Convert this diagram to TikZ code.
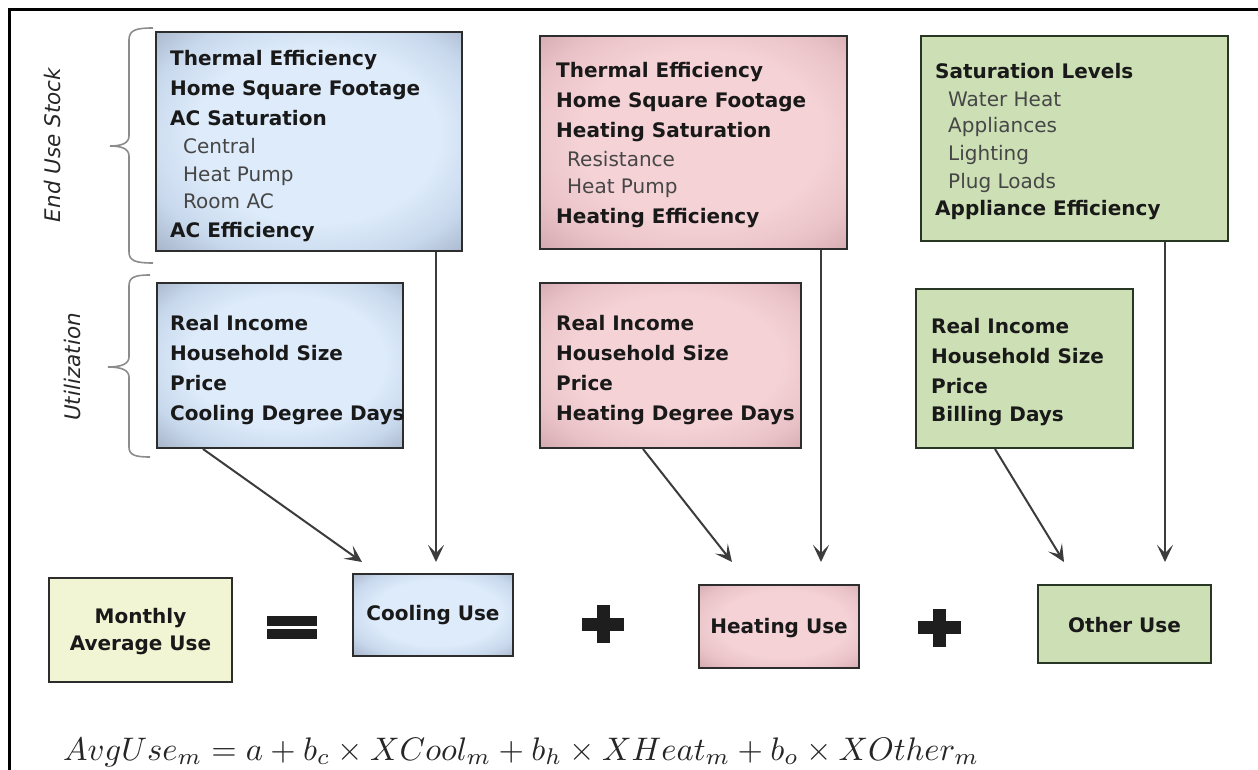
\documentclass[tikz,border=0pt]{standalone}
\usepackage{fontspec}
\setmainfont{DejaVu Sans}
\usepackage{graphicx}
\usetikzlibrary{arrows.meta}
\definecolor{bllight}{RGB}{221,235,250}
\definecolor{blmid}{RGB}{200,216,236}
\definecolor{bldark}{RGB}{150,164,184}
\definecolor{pklight}{RGB}{244,210,214}
\definecolor{pkmid}{RGB}{233,194,199}
\definecolor{pkdark}{RGB}{200,158,163}
\definecolor{grfill}{RGB}{205,224,181}
\definecolor{ylfill}{RGB}{242,245,212}
\definecolor{boxline}{RGB}{45,45,45}
\definecolor{grline}{RGB}{40,55,35}
\definecolor{arrowgray}{RGB}{60,60,60}
\definecolor{bracegray}{RGB}{140,140,140}
\definecolor{subgray}{RGB}{70,70,70}
\definecolor{signcol}{RGB}{30,30,30}
\pgfdeclareradialshading{blueshade}{\pgfpoint{2bp}{2bp}}{color(0bp)=(bllight); color(20bp)=(bllight); color(29bp)=(blmid); color(40bp)=(bldark); color(60bp)=(bldark)}
\pgfdeclareradialshading{pinkshade}{\pgfpoint{2bp}{2bp}}{color(0bp)=(pklight); color(20bp)=(pklight); color(29bp)=(pkmid); color(40bp)=(pkdark); color(60bp)=(pkdark)}
\newcommand\subitm[1]{{\mdseries\color{subgray}#1}}
\tikzset{
  boxbase/.style={draw=boxline, line width=2pt, rectangle, inner sep=0pt},
  bluebox/.style={boxbase, shade, shading=blueshade},
  pinkbox/.style={boxbase, shade, shading=pinkshade},
  greenbox/.style={boxbase, draw=grline, fill=grfill},
  yellowbox/.style={boxbase, fill=ylfill},
  itemlist/.style={align=left, anchor=base west, inner sep=0pt, font=\fontsize{20}{30}\selectfont\bfseries, text=black!90},
  uselabel/.style={font=\fontsize{20}{27}\selectfont\bfseries, align=center, inner sep=0pt, text=black!90},
  arr/.style={draw=arrowgray, line width=2pt, -{Stealth[length=17pt,width=16pt,inset=8pt]}},
  bracket/.style={draw=bracegray, line width=1.6pt},
  sidelabel/.style={font=\fontsize{21.5}{24}\selectfont\itshape, rotate=90, text=black!85, inner sep=0pt},
  signfill/.style={fill=signcol},
}
\begin{document}
\begin{tikzpicture}[x=1pt,y=-1pt]
\useasboundingbox (0,0) rectangle (1258,770);
% frame
\draw[line width=3pt] (1258,10) -- (9,10) -- (9,770);

% braces and side labels
\draw[bracket] (153,28) .. controls (136,28) and (129,30) .. (129,40) -- (129,136) .. controls (129,143) and (122,146) .. (110,146) .. controls (122,146) and (129,149) .. (129,156) -- (129,252) .. controls (129,261) and (136,263) .. (153,263);
\draw[bracket] (150,275) .. controls (135,275) and (129,277) .. (129,286) -- (129,357) .. controls (129,364) and (121,367) .. (108,367) .. controls (121,367) and (129,370) .. (129,377) -- (129,447) .. controls (129,455) and (135,457) .. (150,457);
\node[sidelabel] (lstock) at (52,145) {End Use Stock};
\node[sidelabel] (lutil) at (72,367) {Utilization};

% top row boxes
\node[bluebox, minimum width=306pt, minimum height=219pt] (btop) at (309,141.5) {};
\node[pinkbox, minimum width=307pt, minimum height=213pt] (ptop) at (693.5,142.5) {};
\node[greenbox, minimum width=307pt, minimum height=205pt] (gtop) at (1074.5,138.5) {};
% middle row boxes
\node[bluebox, minimum width=246pt, minimum height=165pt] (bbot) at (280,365.5) {};
\node[pinkbox, minimum width=261pt, minimum height=165pt] (pbot) at (670.5,365.5) {};
\node[greenbox, minimum width=217pt, minimum height=159pt] (gbot) at (1024.5,368.5) {};

% texts (anchored at the baseline of the last line)
\node[itemlist] (btoptxt) at (170,237) {Thermal Efficiency\\ Home Square Footage\\ AC Saturation\\[-2pt] \subitm{\kern13pt Central}\\[-2pt] \subitm{\kern13pt Heat Pump}\\[-3pt] \subitm{\kern13pt Room AC}\\[-1pt] AC Efficiency};
\node[itemlist] (ptoptxt) at (556,224) {Thermal Efficiency\\ Home Square Footage\\ Heating Saturation\\[-2pt] \subitm{\kern11pt Resistance}\\[-2pt] \subitm{\kern11pt Heat Pump}\\ Heating Efficiency};
\node[itemlist] (gtoptxt) at (935,216) {Saturation Levels\\[-2pt] \subitm{\kern13pt Water Heat}\\[-3pt] \subitm{\kern13pt Appliances}\\[-2pt] \subitm{\kern13pt Lighting}\\[-3pt] \subitm{\kern13pt Plug Loads}\\[-2pt] Appliance Efficiency};
\node[itemlist] (bbottxt) at (170,420) {Real Income\\ Household Size\\ Price\\ Cooling Degree Days};
\node[itemlist] (pbottxt) at (556,420) {Real Income\\ Household Size\\ Price\\ Heating Degree Days};
\node[itemlist] (gbottxt) at (931,421) {Real Income\\ Household Size\\ Price\\[-2pt] Billing Days};

% bottom row
\node[yellowbox, minimum width=183pt, minimum height=104pt] (month) at (140.5,630) {};
\node[uselabel] (monthtxt) at (140.5,632) {Monthly\\ Average Use};
\node[bluebox, minimum width=160pt, minimum height=82pt] (cool) at (433,615) {};
\node[uselabel] (cooltxt) at (433,615) {Cooling Use};
\node[pinkbox, minimum width=160pt, minimum height=83pt] (heat) at (779,626.5) {};
\node[uselabel] (heattxt) at (779,628) {Heating Use};
\node[greenbox, minimum width=173pt, minimum height=78pt] (other) at (1124.5,624) {};
\node[uselabel] (othertxt) at (1124.5,625) {Other Use};

% signs
\fill[signfill] (267,616) rectangle (317,626);
\fill[signfill] (267,629) rectangle (317,639);
\fill[signfill] (597,605) rectangle (610,643);
\fill[signfill] (582,618) rectangle (624,631);
\fill[signfill] (933,609) rectangle (946,647);
\fill[signfill] (918,621) rectangle (961,634);

% arrows
\coordinate (c1s) at (203,448);
\coordinate (c1e) at (362,562);
\coordinate (v1) at (436,562);
\coordinate (c2s) at (643,448);
\coordinate (c2e) at (732,562);
\coordinate (v2) at (821,562);
\coordinate (c3s) at (995,448);
\coordinate (c3e) at (1064,562);
\coordinate (v3) at (1165,562);
\draw[arr] (bbot.south -| c1s) -- (c1e);
\draw[arr] (btop.south -| v1) -- (v1);
\draw[arr] (pbot.south -| c2s) -- (c2e);
\draw[arr] (ptop.south -| v2) -- (v2);
\draw[arr] (gbot.south -| c3s) -- (c3e);
\draw[arr] (gtop.south -| v3) -- (v3);

% formula
\node[anchor=base west, inner sep=0pt, text=black!85] (formula) at (63,760) {\resizebox{916pt}{!}{$AvgUse_m = a + b_c \times XCool_m + b_h \times XHeat_m + b_o \times XOther_m$}};
\end{tikzpicture}
\end{document}
